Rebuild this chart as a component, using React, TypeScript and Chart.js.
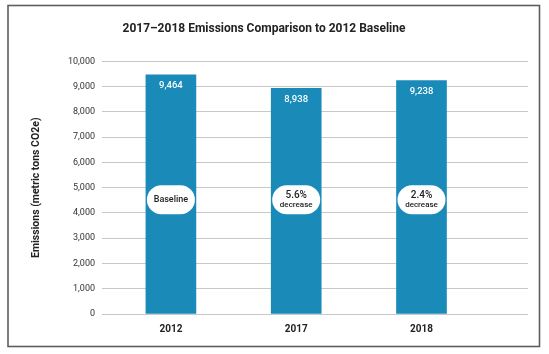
import { useEffect, useRef } from 'react';
import { Chart, registerables } from 'chart.js';

Chart.register(...registerables);

const chartTitle = '2017–2018 Emissions Comparison to 2012 Baseline';
const yAxisTitle = 'Emissions (metric tons CO2e)';
const categories = ['2012', '2017', '2018'];
const emissions = [9464, 8938, 9238];
const pillLines = [['Baseline'], ['5.6%', 'decrease'], ['2.4%', 'decrease']];
const yMin = 0;
const yMax = 10000;
const yStep = 1000;

const FONT = 'Roboto, "Noto Sans", sans-serif';
const BAR_COLOR = '#1a8ab9';

function pillPath(ctx: CanvasRenderingContext2D, x: number, y: number, w: number, h: number, r: number) {
  ctx.beginPath();
  ctx.moveTo(x + r, y);
  ctx.lineTo(x + w - r, y);
  ctx.arc(x + w - r, y + r, r, -Math.PI / 2, 0);
  ctx.lineTo(x + w, y + h - r);
  ctx.arc(x + w - r, y + h - r, r, 0, Math.PI / 2);
  ctx.lineTo(x + r, y + h);
  ctx.arc(x + r, y + h - r, r, Math.PI / 2, Math.PI);
  ctx.lineTo(x, y + r);
  ctx.arc(x + r, y + r, r, Math.PI, Math.PI * 1.5);
  ctx.closePath();
}

const framePlugin = {
  id: 'frame',
  beforeDraw(chart: any) {
    const ctx = chart.ctx as CanvasRenderingContext2D;
    ctx.save();
    ctx.fillStyle = '#ffffff';
    ctx.fillRect(0, 0, chart.width, chart.height);
    ctx.strokeStyle = '#5e5e5e';
    ctx.lineWidth = 1.6;
    ctx.strokeRect(8, 5.5, 531.5, 341);
    ctx.restore();
  },
};

const labelPlugin = {
  id: 'barLabels',
  afterDatasetsDraw(chart: any, _args: any, opts: any) {
    const ctx = chart.ctx as CanvasRenderingContext2D;
    const meta = chart.getDatasetMeta(0);
    const yScale = chart.scales.y;
    ctx.save();
    meta.data.forEach((bar: any, i: number) => {
      const { x, y } = bar.getProps(['x', 'y'], true);
      ctx.textAlign = 'center';
      ctx.textBaseline = 'middle';
      ctx.fillStyle = '#ffffff';
      ctx.font = `500 9.5px ${FONT}`;
      ctx.fillText(emissions[i].toLocaleString('en-US'), x, y + 11);

      const cy = yScale.getPixelForValue(opts.pillLevel);
      const w = 48;
      const h = 29;
      pillPath(ctx, x - w / 2, cy - h / 2, w, h, h / 2);
      ctx.fillStyle = '#ffffff';
      ctx.fill();

      const lines = pillLines[i];
      ctx.fillStyle = '#222222';
      if (lines.length === 1) {
        ctx.font = `500 9px ${FONT}`;
        ctx.fillText(lines[0], x, cy);
      } else {
        ctx.font = `500 10px ${FONT}`;
        ctx.fillText(lines[0], x, cy - 4.7);
        ctx.font = `500 8px ${FONT}`;
        ctx.fillText(lines[1], x, cy + 4.7);
      }
    });
    ctx.restore();
  },
};

export default function App() {
  const canvasRef = useRef<HTMLCanvasElement | null>(null);

  useEffect(() => {
    if (!canvasRef.current) return;
    const chart = new Chart(canvasRef.current, {
      type: 'bar',
      data: {
        datasets: [
          {
            data: emissions.map((v, i) => ({ x: i, y: v })),
            backgroundColor: BAR_COLOR,
            barThickness: 50,
          },
        ],
      },
      plugins: [framePlugin, labelPlugin],
      options: {
        animation: false,
        responsive: true,
        maintainAspectRatio: false,
        layout: { padding: { top: 0, left: 0, right: 21, bottom: 10 } },
        plugins: {
          legend: { display: false },
          tooltip: { enabled: false },
          title: {
            display: true,
            text: chartTitle,
            color: '#222222',
            font: { family: FONT, size: 12, weight: 'bold' },
            padding: { top: 22, bottom: 25 },
          },
          barLabels: { pillLevel: 4520 },
        } as any,
        scales: {
          x: {
            type: 'linear',
            min: -0.55,
            max: 2.85,
            offset: false,
            grid: { display: false, drawTicks: false, offset: false },
            border: { display: false },
            afterBuildTicks: (scale: any) => {
              scale.ticks = categories.map((_, i) => ({ value: i }));
            },
            ticks: {
              padding: 9,
              color: '#222222',
              font: { family: FONT, size: 10, weight: 'bold' },
              callback: (v: any) => categories[Number(v)] ?? '',
              autoSkip: false,
              maxRotation: 0,
            },
          },
          y: {
            min: yMin,
            max: yMax,
            afterFit: (scale: any) => {
              scale.width = 102;
            },
            grid: { color: '#c8c8c8', lineWidth: 1, drawTicks: false },
            border: { display: false },
            ticks: {
              stepSize: yStep,
              padding: 7,
              color: '#333333',
              font: { family: FONT, size: 9 },
              callback: (v: any) => Number(v).toLocaleString('en-US'),
            },
            title: {
              display: true,
              text: yAxisTitle,
              color: '#222222',
              font: { family: FONT, size: 10.5, weight: 'bold' },
              padding: { top: 30, bottom: 0 },
            },
          },
        },
      } as any,
    });
    return () => chart.destroy();
  }, []);

  return (
    <div style={{ position: 'fixed', left: 0, top: 0, width: 549, height: 354 }}>
      <canvas ref={canvasRef} />
    </div>
  );
}
